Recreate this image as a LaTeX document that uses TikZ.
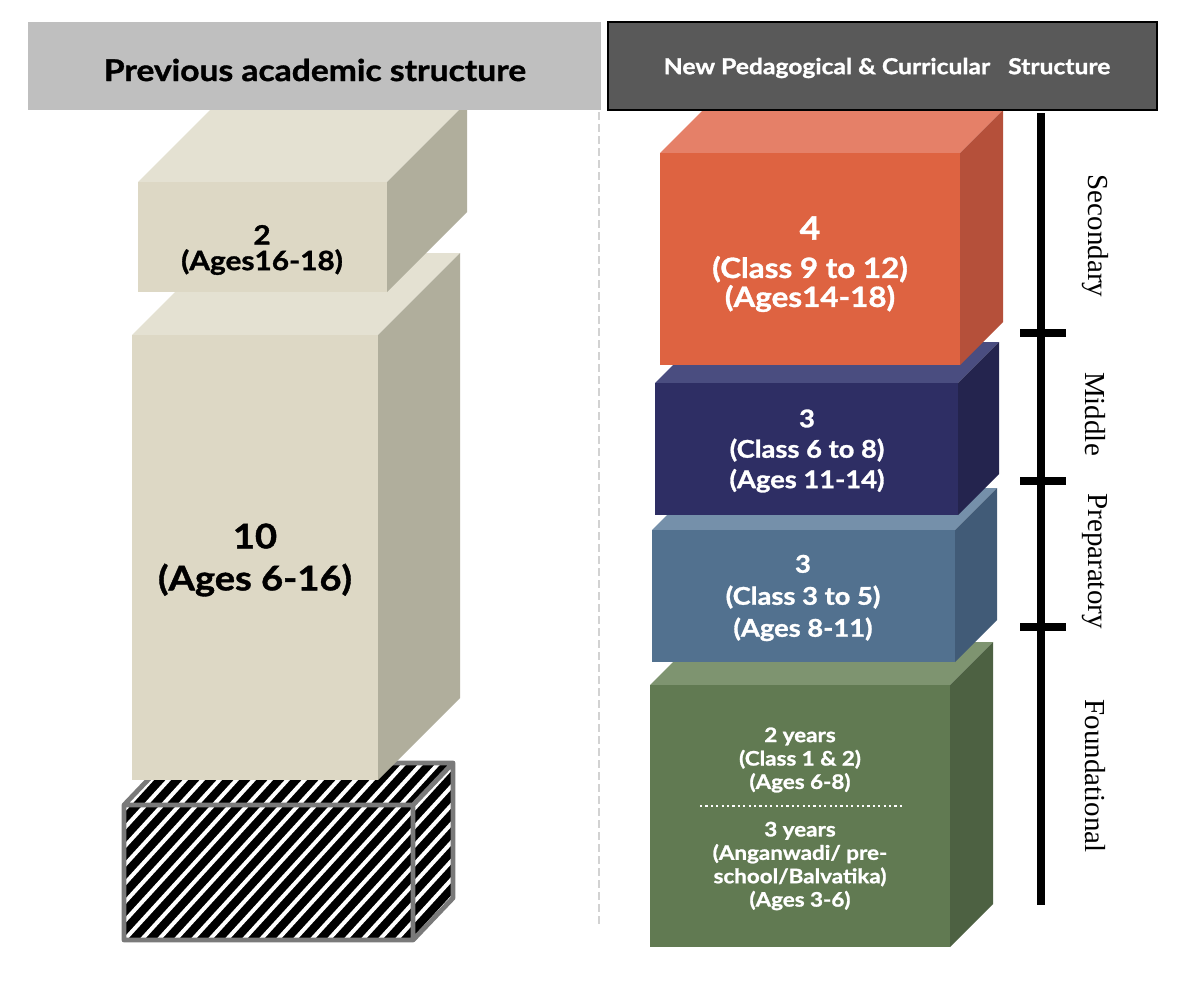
\documentclass[tikz,border=0pt]{standalone}
\usepackage{fontspec}
\setmainfont{Lato}[FakeStretch=1.12, BoldFeatures={FakeBold=1.2}]
\newfontfamily\serifl{Liberation Serif}
\definecolor{hdrL}{HTML}{BFBFBF}
\definecolor{hdrR}{HTML}{595959}
\definecolor{crF}{HTML}{DDD8C5}
\definecolor{crT}{HTML}{E4E1D2}
\definecolor{crS}{HTML}{B0AE9C}
\definecolor{orF}{HTML}{DE6341}
\definecolor{orT}{HTML}{E58068}
\definecolor{orS}{HTML}{B5503A}
\definecolor{nvF}{HTML}{2E2E64}
\definecolor{nvT}{HTML}{4A4D80}
\definecolor{nvS}{HTML}{24244E}
\definecolor{blF}{HTML}{52718F}
\definecolor{blT}{HTML}{7590AA}
\definecolor{blS}{HTML}{415B77}
\definecolor{grF}{HTML}{617A52}
\definecolor{grT}{HTML}{7E9470}
\definecolor{grS}{HTML}{4D6142}
\definecolor{hatchedge}{HTML}{7A7A7A}
\newcommand{\cuboid}[8]{%
  \fill[#7] (#1,#2) -- ({#1+#5},{#2-#5}) -- ({#3+#5},{#2-#5}) -- (#3,#2) -- cycle;
  \fill[#8] (#3,#2) -- ({#3+#5},{#2-#5}) -- ({#3+#5},{#4-#5}) -- (#3,#4) -- cycle;
  \fill[#6] (#1,#2) rectangle (#3,#4);
}
\tikzset{
  boxtxt/.style={align=center, font=\bfseries, inner sep=0pt},
  wtxt/.style={boxtxt, text=white},
  btxt/.style={boxtxt, text=black},
  stage/.style={rotate=-90, font=\serifl\fontsize{14.5}{16}\selectfont, inner sep=0pt},
  tl/.style={line width=3.6pt, black},
}
\begin{document}
\begin{tikzpicture}[x=0.5pt,y=-0.5pt]
\useasboundingbox (0,0) rectangle (1200,981);
\fill[white] (0,0) rectangle (1200,981);
% dashed divider
\draw[gray!35, line width=0.6pt, dash pattern=on 4pt off 2pt] (599,112) -- (599,925);
% ---------- hatched box ----------
\begin{scope}
  \clip (124,805) -- (164,763) -- (453,763) -- (453,898) -- (413,940) -- (124,940) -- cycle;
  \fill[black] (100,740) rectangle (480,960);
  \foreach \i in {-200,-183,...,520} {
    \draw[white, line width=2pt] (\i,960) -- ({\i+210},730);
  }
\end{scope}
\draw[hatchedge, line width=2.4pt, line join=round]
  (124,805) -- (164,763) -- (453,763) -- (453,898) -- (413,940) -- (124,940) -- cycle
  (124,805) -- (413,805) -- (413,940) (413,805) -- (453,763);
% ---------- cream boxes ----------
\cuboid{132}{335}{378}{780}{82}{crF}{crT}{crS}
\cuboid{138}{182}{387}{292}{80}{crF}{crT}{crS}
\node[btxt, font=\bfseries\fontsize{13.3}{12.8}\selectfont] (old2) at (262,250) {2\\(Ages16-18)};
\node[btxt, font=\bfseries\fontsize{17}{21}\selectfont] (old10) at (255,560) {10\\(Ages 6-16)};
% ---------- new structure boxes ----------
\cuboid{650}{685}{950}{947}{43}{grF}{grT}{grS}
\cuboid{652}{530}{955}{662}{42}{blF}{blT}{blS}
\cuboid{655}{383}{958}{515}{41}{nvF}{nvT}{nvS}
\cuboid{660}{153}{960}{365}{43}{orF}{orT}{orS}
\node[wtxt, font=\bfseries\fontsize{16}{14}\selectfont] (sec4) at (810,228) {4};
\node[wtxt, font=\bfseries\fontsize{14}{14.5}\selectfont] (sectx) at (810,284) {(Class 9 to 12)\\(Ages14-18)};
\node[wtxt, font=\bfseries\fontsize{12.2}{15.2}\selectfont] (midtx) at (807,451) {3\\(Class 6 to 8)\\(Ages 11-14)};
\node[wtxt, font=\bfseries\fontsize{12.2}{16}\selectfont] (preptx) at (803,598) {3\\(Class 3 to 5)\\(Ages 8-11)};
\node[wtxt, font=\bfseries\fontsize{10}{11.7}\selectfont] (fnd1) at (800,760) {2 years\\(Class 1 \& 2)\\(Ages 6-8)};
\coordinate (dotL) at (700,806);
\coordinate (dotR) at (902,806);
\draw[white, line width=1.1pt, dash pattern=on 1.1pt off 1.6pt] (dotL) -- (dotR);
\node[wtxt, font=\bfseries\fontsize{10}{11.7}\selectfont] (fnd2) at (800,866) {3 years\\(Anganwadi/ pre-\\school/Balvatika)\\(Ages 3-6)};
% ---------- headers ----------
\fill[hdrL] (28,22) rectangle (601,110);
\node[btxt, font=\bfseries\fontsize{15}{16}\selectfont] (hL) at (315,70) {Previous academic structure};
\filldraw[fill=hdrR, draw=black, line width=1pt] (608,22) rectangle (1157,110);
\node[wtxt, font=\bfseries\fontsize{11}{12}\selectfont] (hR) at (887,68) {New Pedagogical \& Curricular \ \ Structure};
% ---------- timeline ----------
\coordinate (tTop) at (1041,113);
\coordinate (tBot) at (1041,905);
\draw[tl] (tTop) -- (tBot);
\foreach \yy/\nm in {333/a,481/b,627/c} {
  \coordinate (tk\nm L) at (1020,\yy);
  \coordinate (tk\nm R) at (1066,\yy);
  \draw[tl] (tk\nm L) -- (tk\nm R);
}
\node[stage] (lsec) at (1095,236) {Secondary};
\node[stage] (lmid) at (1095,414) {Middle};
\node[stage] (lprep) at (1095,561) {Preparatory};
\node[stage] (lfnd) at (1095,776) {Foundational};
\end{tikzpicture}
\end{document}
